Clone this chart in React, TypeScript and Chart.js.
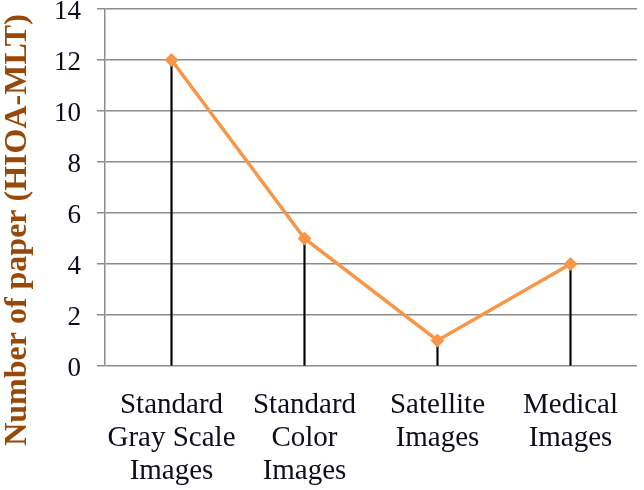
import React, { useEffect, useRef } from "react";
import { Chart, registerables } from "chart.js";

Chart.register(...registerables);

const categories: string[][] = [
  ["Standard", "Gray Scale", "Images"],
  ["Standard", "Color", "Images"],
  ["Satellite", "Images"],
  ["Medical", "Images"],
];
const paperCounts: number[] = [12, 5, 1, 4];
const yTitle = "Number of paper (HIOA-MLT)";

export default function App() {
  const ref = useRef<HTMLCanvasElement | null>(null);
  useEffect(() => {
    document.body.style.margin = "0";
    const ctx = ref.current!.getContext("2d")!;
    const titleSize = 32;
    const titleLH = 1.1;
    const titleW = titleSize * titleLH;
    const chart = new Chart(ctx, {
      type: "bar",
      data: {
        labels: categories,
        datasets: [
          {
            type: "line",
            data: paperCounts,
            borderColor: "#F79646",
            backgroundColor: "#F79646",
            borderWidth: 3.5,
            pointStyle: "rectRot",
            pointRadius: 7,
            pointBorderWidth: 0,
            tension: 0,
            order: 0,
          } as any,
          {
            type: "bar",
            data: paperCounts,
            backgroundColor: "#000000",
            barThickness: 1.5,
            order: 1,
          } as any,
        ],
      },
      options: {
        responsive: false,
        animation: false,
        layout: { padding: { top: -30, right: 3, left: 0, bottom: 0 } },
        plugins: {
          legend: { display: false },
          tooltip: { enabled: false },
          title: {
            display: true,
            position: "left",
            text: yTitle,
            color: "#984807",
            font: { family: "'Liberation Serif', serif", size: titleSize, weight: "bold", lineHeight: titleLH },
            padding: 0,
            fullSize: true,
          },
        },
        scales: {
          x: {
            offset: true,
            grid: { display: false },
            border: { display: false },
            ticks: {
              color: "#0d0d1f",
              font: { family: "'Liberation Serif', serif", size: 29, lineHeight: 1.14 },
              padding: 15,
              maxRotation: 0,
              autoSkip: false,
            },
            afterFit: (s: any) => {
              s.height = 124;
              s.paddingLeft = 0;
              s.paddingRight = 0;
            },
          },
          y: {
            min: 0,
            max: 14,
            ticks: {
              stepSize: 2,
              color: "#0d0d1f",
              font: { family: "'Liberation Serif', serif", size: 27 },
              padding: 16,
              labelOffset: 3,
            },
            grid: {
              color: "#8c8c8c",
              lineWidth: 1.5,
              tickLength: 8,
            },
            border: { display: true, color: "#8c8c8c", width: 1.5 },
            afterFit: (s: any) => {
              s.width = 105 - titleW;
              s.paddingTop = 9;
              s.paddingBottom = 0;
            },
          },
        },
      },
    });
    return () => chart.destroy();
  }, []);
  return <canvas ref={ref} width={644} height={490} style={{ display: "block" }} />;
}
